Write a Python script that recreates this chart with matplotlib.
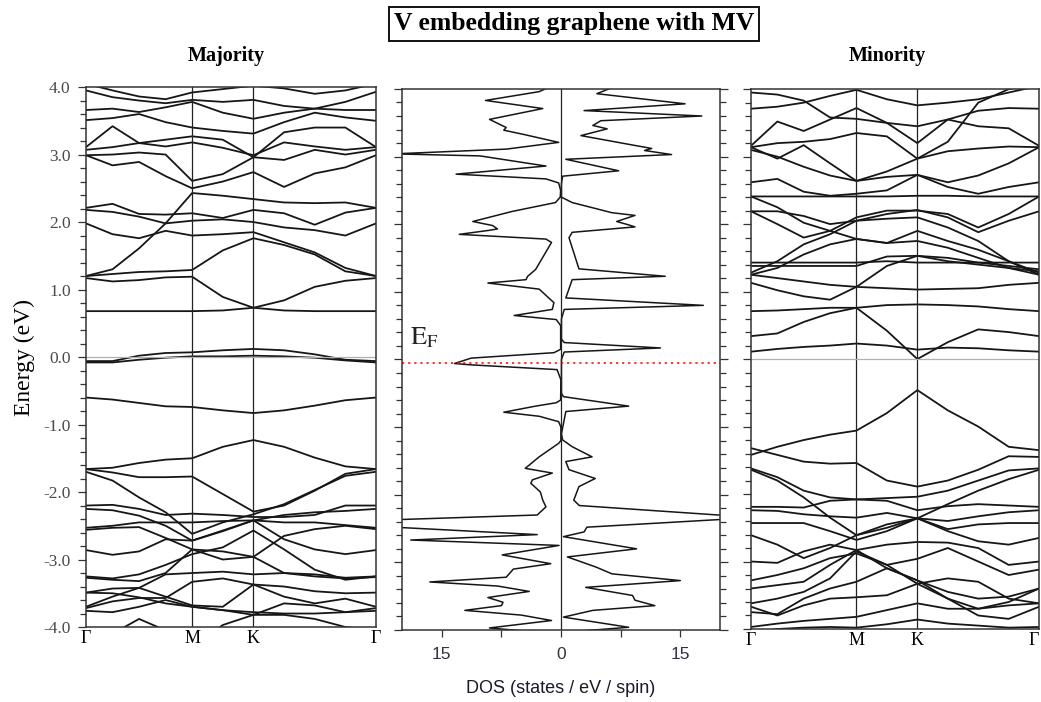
import numpy as np
import matplotlib
matplotlib.use("Agg")
import matplotlib.pyplot as plt
from matplotlib.ticker import MultipleLocator

plt.rcParams['axes.unicode_minus'] = False
plt.rcParams['mathtext.fontset'] = 'stix'

# k-path distances (G - M - K - G), 11 sampled points
k_dist = [0.0, 0.25, 0.5, 0.75, 1.0, 1.2887, 1.5774, 1.8661, 2.1547, 2.4434, 2.7321]
k_ticks = [0.0, 1.0, 1.5774, 2.7321]
k_labels = ['Γ', 'M', 'K', 'Γ']

# Majority spin bands (eV)
bands_major = [
    [4.05, 3.95, 3.86, 3.82, 3.92, 3.97, 4.02, 3.98, 3.90, 3.95, 4.05],
    [3.95, 3.85, 3.80, 3.76, 3.81, 3.78, 3.81, 3.72, 3.68, 3.78, 3.93],
    [3.66, 3.68, 3.63, 3.70, 3.78, 3.62, 3.53, 3.62, 3.68, 3.66, 3.66],
    [3.51, 3.54, 3.60, 3.48, 3.40, 3.35, 3.31, 3.48, 3.62, 3.55, 3.50],
    [3.11, 3.42, 3.17, 3.12, 3.18, 3.10, 2.99, 3.18, 3.12, 3.07, 3.11],
    [3.07, 3.11, 3.17, 3.22, 3.27, 3.22, 2.96, 3.33, 3.40, 3.40, 3.11],
    [2.99, 3.00, 3.03, 3.00, 2.61, 2.71, 2.96, 2.92, 3.07, 3.00, 3.07],
    [2.99, 2.84, 2.89, 2.68, 2.50, 2.60, 2.74, 2.52, 2.72, 2.81, 2.99],
    [2.21, 2.27, 2.12, 2.11, 2.13, 2.06, 2.18, 2.13, 1.96, 2.14, 2.21],
    [1.20, 1.30, 1.61, 1.98, 2.43, 2.39, 2.34, 2.29, 2.28, 2.29, 2.21],
    [2.18, 2.15, 2.08, 1.98, 2.02, 2.04, 2.00, 1.92, 1.88, 1.80, 1.98],
    [1.98, 1.82, 1.76, 1.87, 1.80, 1.82, 1.85, 1.70, 1.55, 1.32, 1.20],
    [1.20, 1.23, 1.26, 1.27, 1.29, 1.58, 1.76, 1.66, 1.52, 1.27, 1.20],
    [1.17, 1.12, 1.14, 1.18, 1.19, 0.89, 0.73, 0.84, 1.04, 1.13, 1.17],
    [0.68, 0.68, 0.68, 0.68, 0.68, 0.69, 0.73, 0.69, 0.68, 0.68, 0.68],
    [-0.06, -0.06, 0.02, 0.06, 0.07, 0.10, 0.12, 0.10, 0.04, -0.04, -0.06],
    [-0.08, -0.08, -0.04, -0.01, 0.01, 0.01, 0.02, 0.01, -0.01, -0.05, -0.08],
    [-0.60, -0.63, -0.68, -0.73, -0.74, -0.79, -0.83, -0.79, -0.72, -0.64, -0.60],
    [-1.66, -1.64, -1.57, -1.52, -1.50, -1.33, -1.23, -1.33, -1.49, -1.62, -1.66],
    [-1.66, -1.71, -1.78, -1.78, -1.77, -2.03, -2.29, -2.20, -1.98, -1.73, -1.66],
    [-1.70, -1.83, -2.08, -2.30, -2.62, -2.45, -2.33, -2.18, -1.97, -1.76, -1.70],
    [-2.20, -2.19, -2.25, -2.34, -2.32, -2.34, -2.37, -2.37, -2.34, -2.20, -2.20],
    [-2.25, -2.27, -2.35, -2.50, -2.72, -2.57, -2.42, -2.34, -2.30, -2.28, -2.25],
    [-2.53, -2.50, -2.45, -2.45, -2.45, -2.43, -2.42, -2.45, -2.45, -2.49, -2.53],
    [-2.56, -2.53, -2.52, -2.68, -2.85, -2.88, -2.96, -2.65, -2.55, -2.50, -2.55],
    [-2.86, -2.93, -2.88, -2.70, -2.72, -2.58, -2.42, -2.70, -2.85, -2.92, -2.86],
    [-3.25, -3.28, -3.22, -3.08, -2.92, -2.82, -2.57, -2.85, -3.15, -3.30, -3.25],
    [-3.27, -3.30, -3.32, -3.20, -2.85, -3.00, -2.96, -3.20, -3.25, -3.28, -3.26],
    [-3.49, -3.43, -3.42, -3.22, -3.20, -3.18, -3.22, -3.20, -3.22, -3.27, -3.25],
    [-3.70, -3.55, -3.42, -3.55, -3.68, -3.70, -3.37, -3.40, -3.47, -3.50, -3.49],
    [-3.72, -3.62, -3.57, -3.57, -3.33, -3.28, -3.37, -3.55, -3.65, -3.58, -3.70],
    [-3.76, -3.78, -3.70, -3.60, -3.70, -3.75, -3.82, -3.65, -3.68, -3.78, -3.72],
    [-3.49, -3.50, -3.56, -3.65, -3.70, -3.75, -3.78, -3.80, -3.80, -3.78, -3.76],
    [-4.20, -4.10, -3.88, -4.05, -4.30, -3.97, -3.82, -3.82, -3.88, -4.00, -4.05],
]

# Minority spin bands (eV)
bands_minor = [
    [3.71, 3.74, 3.80, 3.90, 3.99, 3.85, 3.76, 3.80, 3.85, 3.95, 4.05],
    [3.95, 3.92, 3.83, 3.58, 3.56, 3.50, 3.45, 3.55, 3.68, 3.72, 3.71],
    [3.16, 3.52, 3.38, 3.55, 3.72, 3.50, 3.20, 3.55, 3.45, 3.42, 3.16],
    [3.14, 3.20, 3.22, 3.26, 3.35, 3.30, 2.97, 3.22, 3.80, 4.00, 4.10],
    [3.14, 2.97, 3.17, 2.90, 2.64, 2.78, 2.97, 3.08, 3.12, 3.15, 3.14],
    [3.10, 3.00, 2.85, 2.72, 2.64, 2.70, 2.73, 2.62, 2.72, 2.90, 3.14],
    [2.62, 2.67, 2.48, 2.42, 2.45, 2.50, 2.73, 2.55, 2.45, 2.55, 2.62],
    [2.41, 2.41, 2.41, 2.41, 2.41, 2.41, 2.42, 2.42, 2.41, 2.41, 2.41],
    [2.41, 2.25, 2.02, 1.90, 2.10, 2.20, 2.20, 2.15, 1.95, 2.15, 2.41],
    [2.19, 2.19, 2.12, 2.00, 2.05, 2.15, 2.21, 2.10, 1.88, 2.05, 2.19],
    [2.19, 2.00, 1.80, 1.90, 1.78, 1.72, 1.90, 1.75, 1.62, 1.45, 1.28],
    [1.28, 1.45, 1.70, 1.85, 2.05, 2.08, 2.10, 1.95, 1.75, 1.45, 1.25],
    [1.25, 1.35, 1.55, 1.70, 1.78, 1.72, 1.75, 1.65, 1.50, 1.35, 1.25],
    [1.43, 1.43, 1.43, 1.43, 1.43, 1.45, 1.43, 1.43, 1.43, 1.43, 1.43],
    [1.38, 1.38, 1.38, 1.38, 1.38, 1.52, 1.53, 1.50, 1.43, 1.38, 1.33],
    [1.25, 1.20, 1.15, 1.10, 1.07, 1.05, 1.03, 1.04, 1.05, 1.10, 1.13],
    [1.13, 1.02, 0.93, 0.88, 1.07, 1.38, 1.53, 1.45, 1.40, 1.35, 1.30],
    [0.71, 0.72, 0.74, 0.76, 0.76, 0.80, 0.81, 0.80, 0.78, 0.74, 0.71],
    [0.34, 0.38, 0.55, 0.68, 0.76, 0.42, 0.00, 0.25, 0.44, 0.40, 0.34],
    [0.11, 0.15, 0.18, 0.20, 0.23, 0.20, 0.14, 0.17, 0.16, 0.13, 0.11],
    [-1.42, -1.30, -1.20, -1.12, -1.06, -0.80, -0.46, -0.76, -1.00, -1.30, -1.35],
    [-1.32, -1.42, -1.52, -1.55, -1.54, -1.80, -1.89, -1.80, -1.64, -1.44, -1.45],
    [-1.62, -1.75, -1.95, -2.05, -2.08, -2.06, -2.04, -1.95, -1.80, -1.65, -1.62],
    [-1.64, -1.80, -2.05, -2.35, -2.61, -2.50, -2.36, -2.15, -1.95, -1.78, -1.64],
    [-2.19, -2.19, -2.20, -2.10, -2.08, -2.10, -2.24, -2.18, -2.15, -2.17, -2.19],
    [-2.24, -2.25, -2.30, -2.33, -2.35, -2.28, -2.36, -2.40, -2.33, -2.27, -2.24],
    [-2.43, -2.43, -2.43, -2.55, -2.68, -2.55, -2.36, -2.52, -2.45, -2.43, -2.43],
    [-2.61, -2.75, -2.95, -2.80, -2.61, -2.45, -2.36, -2.55, -2.70, -2.75, -2.65],
    [-3.00, -3.02, -2.85, -2.75, -2.83, -2.75, -2.71, -2.72, -2.80, -3.05, -3.00],
    [-3.28, -3.20, -3.10, -2.95, -2.88, -3.05, -2.96, -2.80, -3.00, -3.20, -3.12],
    [-3.40, -3.35, -3.30, -3.05, -2.83, -3.10, -3.28, -3.55, -3.70, -3.60, -3.40],
    [-3.62, -3.55, -3.45, -3.25, -2.85, -3.05, -3.33, -3.25, -3.30, -3.55, -3.62],
    [-3.67, -3.80, -3.65, -3.55, -3.53, -3.50, -3.33, -3.55, -3.80, -3.85, -3.67],
    [-3.75, -3.78, -3.55, -3.40, -3.30, -3.10, -3.28, -3.45, -3.55, -3.52, -3.40],
    [-3.97, -3.92, -3.88, -3.85, -3.82, -3.72, -3.62, -3.70, -3.70, -3.65, -3.62],
    [-4.05, -4.00, -3.98, -3.97, -3.98, -3.93, -3.86, -3.92, -3.95, -3.98, -3.97],
]

# DOS majority (energy, states/eV/spin), drawn to the left
dos_maj_E = [4.00, 3.96, 3.83, 3.71, 3.55, 3.43, 3.39, 3.33, 3.21, 3.11, 3.04, 3.01, 2.86,
             2.74, 2.67, 2.61, 2.50, 2.40, 2.32, 2.19, 2.04, 1.98, 1.93, 1.91, 1.85, 1.78,
             1.73, 1.33, 1.23, 1.18, 1.13, 1.04, 0.84, 0.74, 0.65, 0.59, 0.50, 0.15, 0.10,
             0.02, -0.06, -0.08, -0.15, -0.30, -0.60, -0.64, -0.69, -0.78, -0.84, -0.92,
             -1.00, -1.20, -1.24, -1.44, -1.61, -1.68, -1.78, -1.83, -1.96, -2.08, -2.18,
             -2.30, -2.37, -2.48, -2.59, -2.67, -2.75, -2.89, -3.02, -3.10, -3.22, -3.29,
             -3.35, -3.43, -3.52, -3.59, -3.64, -3.71, -3.78, -3.86, -3.97, -4.03]
dos_maj = [2.0, 2.75, 9.5, 2.3, 9.0, 6.9, 7.2, 4.8, 0.3, 6.9, 21.0, 10.2, 1.9,
           13.2, 1.9, 0.3, 0.05, 0.1, 0.7, 6.1, 11.1, 8.6, 8.0, 9.0, 12.8, 1.9,
           1.2, 3.2, 4.2, 4.4, 9.2, 2.75, 0.9, 1.1, 5.9, 0.6, 0.05, 0.05, 0.9,
           11.3, 13.4, 11.3, 0.5, 0.02, 0.05, 0.6, 3.2, 7.2, 2.75, 0.3,
           0.02, 0.02, 0.3, 2.75, 4.5, 1.1, 3.6, 3.8, 2.6, 2.3, 1.9,
           3.0, 21.0, 21.0, 3.0, 18.9, 0.25, 7.4, 1.3, 6.0, 6.9, 16.5,
           8.0, 4.0, 9.2, 7.3, 7.5, 12.1, 5.0, 1.2, 9.0, 3.2]

# DOS minority, drawn to the right
dos_min_E = [4.00, 3.93, 3.78, 3.68, 3.60, 3.53, 3.46, 3.41, 3.31, 3.16, 3.12, 3.09, 3.03,
             2.96, 2.79, 2.71, 2.60, 2.40, 2.32, 2.17, 2.13, 2.04, 1.99, 1.96, 1.88, 1.80,
             1.34, 1.23, 1.18, 0.91, 0.80, 0.74, 0.60, 0.30, 0.25, 0.17, 0.11, 0.00,
             -0.50, -0.55, -0.69, -0.77, -1.10, -1.19, -1.29, -1.44, -1.51, -1.63, -1.76,
             -1.88, -2.08, -2.16, -2.31, -2.36, -2.48, -2.55, -2.62, -2.80, -2.92, -3.07,
             -3.17, -3.27, -3.37, -3.49, -3.56, -3.64, -3.71, -3.81, -3.96, -4.02]
dos_min = [6.0, 4.5, 15.6, 2.9, 17.7, 5.0, 4.0, 5.8, 2.5, 9.5, 11.4, 10.5, 13.9,
           0.6, 7.25, 0.2, 0.05, 0.05, 1.4, 6.4, 9.3, 7.0, 8.5, 9.3, 1.4, 1.0,
           2.25, 13.1, 1.4, 0.6, 17.9, 0.4, 0.05, 0.05, 0.4, 12.5, 0.4, 0.05,
           0.05, 0.3, 8.5, 0.6, 0.05, 0.2, 1.4, 3.9, 0.6, 1.0, 4.3,
           2.25, 1.6, 2.3, 21.0, 21.0, 3.25, 2.9, 0.3, 9.5, 0.8, 4.4,
           6.4, 15.0, 3.1, 9.0, 9.3, 11.8, 4.0, 0.3, 8.5, 2.0]

E_fermi_line = -0.05

fig = plt.figure(figsize=(10.41, 7.02), dpi=100)
serif = ['Liberation Serif', 'DejaVu Serif']
sans = ['Liberation Sans Narrow', 'Liberation Sans', 'DejaVu Sans']
line_col = '#161616'
spine_col = '#333333'


def style_energy_axis(ax, labels):
    ax.set_ylim(-4.0, 4.0)
    ax.yaxis.set_major_locator(MultipleLocator(1.0))
    ax.yaxis.set_minor_locator(MultipleLocator(0.2))
    ax.tick_params(axis='y', which='major', direction='out', length=6, width=0.9,
                   color=spine_col, labelsize=12.5, labelcolor='#4a4a4a', pad=5)
    ax.tick_params(axis='y', which='minor', direction='out', length=4, width=0.9,
                   color=spine_col)
    if labels:
        ax.set_yticks(np.arange(-4, 5, 1.0))
        ax.set_yticklabels(['%.1f' % v for v in np.arange(-4, 5, 1.0)], family=serif)
    else:
        ax.tick_params(axis='y', labelleft=False)
    for s in ax.spines.values():
        s.set_linewidth(1.1)
        s.set_color(spine_col)


def draw_bands(ax, bands, labels):
    for b in bands:
        ax.plot(k_dist, b, color=line_col, lw=1.3)
    ax.set_xlim(k_dist[0], k_dist[-1])
    for kx in k_ticks[1:3]:
        ax.axvline(kx, color='#222222', lw=0.9)
    ax.axhline(0.0, color='#b0b0b0', lw=0.9)
    ax.set_xticks(k_ticks)
    ax.set_xticklabels(k_labels, family=serif, fontsize=13)
    ax.tick_params(axis='x', length=0, pad=2)
    style_energy_axis(ax, labels)


# left: majority bands
ax1 = fig.add_axes([0.0826, 0.1068, 0.2786, 0.7692])
draw_bands(ax1, bands_major, True)
ax1.set_ylabel('Energy (eV)', family=serif, fontsize=17, labelpad=6)

# middle: DOS
ax2 = fig.add_axes([0.3862, 0.1026, 0.3055, 0.7707])
ax2.plot(-np.array(dos_maj), dos_maj_E, color=line_col, lw=1.1)
ax2.plot(dos_min, dos_min_E, color=line_col, lw=1.1)
ax2.axvline(0, color='#222222', lw=0.9)
ax2.axhline(E_fermi_line, color='red', lw=1.1, ls=(0, (1.5, 2.5)))
ax2.set_xlim(-20, 20)
ax2.set_xticks([-15, -7.5, 0, 7.5, 15])
ax2.set_xticklabels(['15', '', '0', '', '15'], family=sans, fontsize=12.5, color='#333344')
ax2.tick_params(axis='x', direction='out', length=5, width=0.9, color=spine_col, pad=7)
style_energy_axis(ax2, False)
ax2.tick_params(axis='y', which='both', right=True)
ax2.set_xlabel('DOS (states / eV / spin)', family=sans, fontsize=13, labelpad=13,
               color='#1a1a2a')
ax2.text(-19.0, 0.22, r'$\mathrm{E}_\mathrm{F}$', fontsize=19, color='#222222')

# right: minority bands
ax3 = fig.add_axes([0.7214, 0.104, 0.2768, 0.769])
draw_bands(ax3, bands_minor, False)
ax3.get_xticklabels()[-1].set_horizontalalignment('right')

fig.text(0.217, 0.920, 'Majority', family=serif, fontsize=14.5, fontweight='bold',
         ha='center', va='center')
fig.text(0.852, 0.920, 'Minority', family=serif, fontsize=14.5, fontweight='bold',
         ha='center', va='center')

fig.text(0.5514, 0.966, 'V embedding graphene with MV', family=serif, fontsize=18.5,
         fontweight='bold', ha='center', va='center',
         bbox=dict(boxstyle='square,pad=0.2', fc='white', ec='#111111', lw=1.4))

fig.savefig('out.png', dpi=100)
